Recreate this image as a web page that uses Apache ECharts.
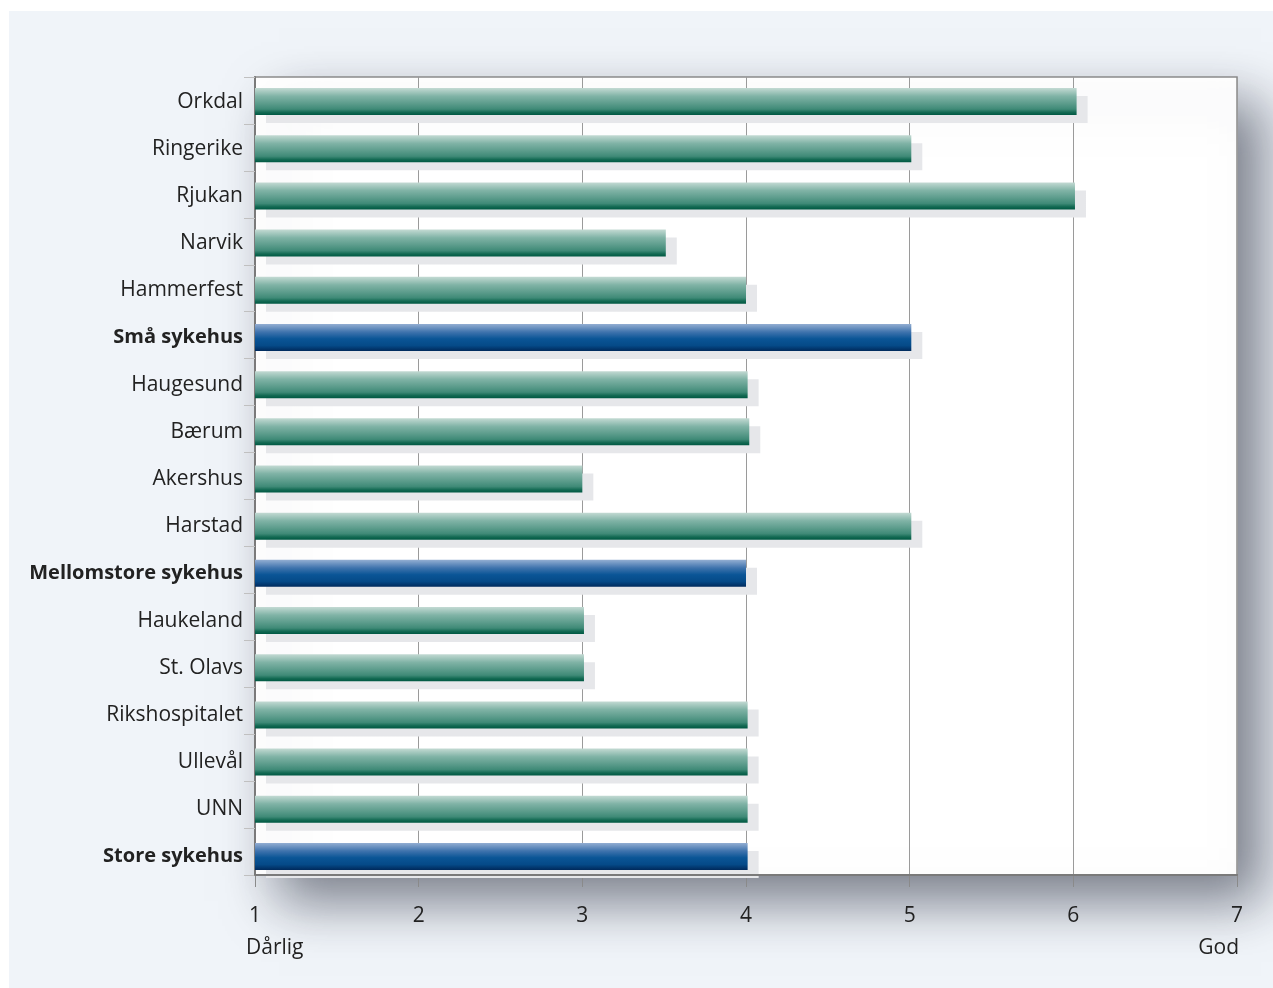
<!DOCTYPE html>
<html>
<head>
<meta charset="utf-8">
<script src="https://cdn.jsdelivr.net/npm/echarts@6/dist/echarts.min.js"></script>
<style>
html,body{margin:0;padding:0;background:#ffffff;width:1273px;height:988px;overflow:hidden;}
#panel{position:absolute;left:9px;top:11px;width:1264px;height:977px;background:#f0f4f9;}
#chart{position:absolute;left:0;top:0;width:1264px;height:977px;}
</style>
</head>
<body>
<div id="panel"><div id="chart"></div></div>
<script>
const categories = ["Orkdal","Ringerike","Rjukan","Narvik","Hammerfest","Små sykehus","Haugesund","Bærum","Akershus","Harstad","Mellomstore sykehus","Haukeland","St. Olavs","Rikshospitalet","Ullevål","UNN","Store sykehus"];
const values = [6.02,5.01,6.01,3.51,4.0,5.01,4.01,4.02,3.0,5.01,4.0,3.01,3.01,4.01,4.01,4.01,4.01];
const summaryRows = ["Små sykehus","Mellomstore sykehus","Store sykehus"];
const xTicks = [1,2,3,4,5,6,7];
const scaleEnds = {low:"Dårlig", high:"God"};

const greenGrad = new echarts.graphic.LinearGradient(0,0,0,1,[
  {offset:0,color:'#c3dad3'},
  {offset:0.3,color:'#80b3a6'},
  {offset:0.55,color:'#5f9e8e'},
  {offset:0.78,color:'#3f8a77'},
  {offset:0.9,color:'#136a53'},
  {offset:1,color:'#005842'}
]);
const blueGrad = new echarts.graphic.LinearGradient(0,0,0,1,[
  {offset:0,color:'#93aed2'},
  {offset:0.3,color:'#3f73ad'},
  {offset:0.55,color:'#0a5596'},
  {offset:0.8,color:'#054a88'},
  {offset:1,color:'#002a5c'}
]);

const chart = echarts.init(document.getElementById('chart'));
const data = categories.map((c,i)=>({
  value: values[i],
  itemStyle: {color: summaryRows.includes(c) ? blueGrad : greenGrad}
}));

const xMin = xTicks[0], xMax = xTicks[xTicks.length-1];

chart.setOption({
  animation:false,
  grid:[
    {
      left:246, top:66, width:982, height:798,
      show:true, backgroundColor:'#ffffff', borderColor:'#8a8a8a', borderWidth:1.5,
      shadowColor:'rgba(45,50,65,0.6)', shadowBlur:50, shadowOffsetX:24, shadowOffsetY:26
    },
    {left:246, top:67, width:982, height:802, show:false}
  ],
  xAxis:[
    {
      gridIndex:0, type:'value', min:xMin, max:xMax, interval:1,
      axisLine:{show:true, lineStyle:{color:'#7a7a7a', width:2}},
      axisTick:{show:true, length:12, lineStyle:{color:'#8a8a8a'}},
      axisLabel:{color:'#222', fontSize:21, fontFamily:'Open Sans', margin:31},
      splitLine:{show:true, lineStyle:{color:'#9a9a9a', width:1}}
    },
    {
      gridIndex:1, type:'value', min:xMin, max:xMax, interval:1,
      show:false
    },
    {
      gridIndex:0, type:'value', min:xMin, max:xMax, interval:1, position:'bottom', offset:0, z:5,
      axisLine:{show:true, lineStyle:{color:'#7a7a7a', width:2}},
      axisTick:{show:false}, axisLabel:{show:false}, splitLine:{show:false}
    }
  ],
  yAxis:[
    {
      gridIndex:0, type:'category', data:categories, inverse:true,
      axisLine:{show:true, lineStyle:{color:'#7a7a7a', width:2}},
      axisTick:{show:true, length:11, lineStyle:{color:'#c0c0c0'}},
      axisLabel:{show:false}
    },
    {
      gridIndex:1, type:'category', data:categories, inverse:true,
      axisLine:{show:false}, axisTick:{show:false},
      axisLabel:{
        fontFamily:'Open Sans', fontSize:21, color:'#222', margin:12,
        formatter:(v)=> summaryRows.includes(v) ? '{b|'+v+'}' : v,
        rich:{b:{fontWeight:'bold', fontSize:20, fontFamily:'Open Sans', color:'#222'}}
      }
    }
  ],
  series:[{
    type:'bar', xAxisIndex:1, yAxisIndex:1, data:data, barWidth:27,
    itemStyle:{shadowColor:'#e6e7ea', shadowBlur:0, shadowOffsetX:11, shadowOffsetY:8}
  }],
  graphic:[
    {type:'text', left:237, top:927, style:{text:scaleEnds.low, fill:'#222', font:'21px "Open Sans"'}},
    {type:'text', right:34, top:927, style:{text:scaleEnds.high, fill:'#222', font:'21px "Open Sans"'}}
  ]
});
</script>
</body>
</html>
